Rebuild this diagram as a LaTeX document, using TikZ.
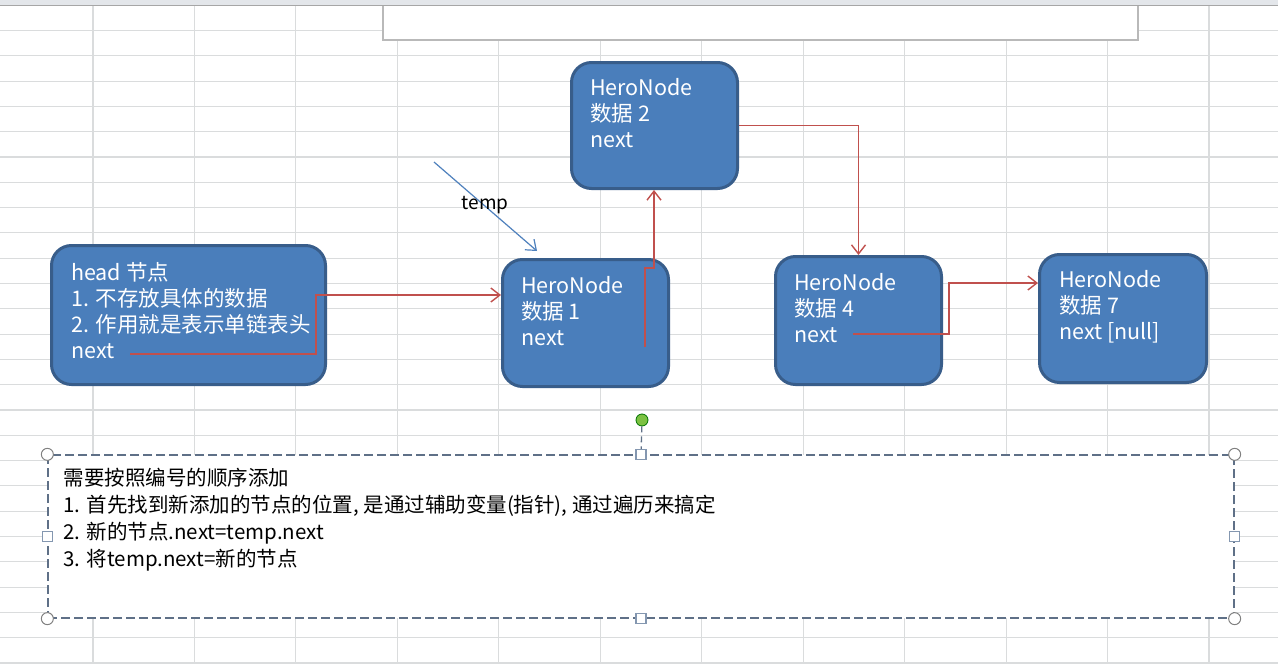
\documentclass[tikz,border=0pt]{standalone}
\usepackage{fontspec}
\setmainfont{Noto Sans CJK SC}
\usetikzlibrary{arrows.meta,calc}
\definecolor{boxfill}{HTML}{4A7EBB}
\definecolor{boxline}{HTML}{385D8A}
\definecolor{linkred}{HTML}{C0504D}
\definecolor{tempblue}{HTML}{4F81BD}
\definecolor{gridc}{HTML}{DADCDD}
\definecolor{dashc}{HTML}{5F7087}
\definecolor{hdr}{HTML}{E3E6EA}
\definecolor{handlec}{HTML}{8497B0}
\definecolor{greenh}{HTML}{7CC142}
\tikzset{
  gridline/.style={draw=gridc, line width=1.1pt},
  herobox/.style={draw=boxline, fill=boxfill, line width=3pt, rounded corners=20pt, inner sep=0pt},
  herotext/.style={anchor=north west, inner sep=0pt, align=left, text=white, font=\fontsize{21.5}{26}\selectfont},
  link/.style={draw=linkred, line width=1.4pt, -{Straight Barb[length=9pt,width=14pt]}},
  templink/.style={draw=tempblue, line width=1.2pt, -{Straight Barb[length=9pt,width=14pt]}},
  cornerh/.style={circle, draw=gray, fill=white, line width=1pt, minimum size=12pt, inner sep=0pt},
  sideh/.style={rectangle, draw=handlec, fill=white, line width=1.1pt, minimum size=10pt, inner sep=0pt},
}
\begin{document}
\begin{tikzpicture}[x=1pt,y=-1pt]
\useasboundingbox (0,0) rectangle (1278,664);
\fill[white] (0,0) rectangle (1278,664);
% spreadsheet grid
\foreach \k in {0,...,11} \draw[gridline] ({93+101.45*\k},0) -- ({93+101.45*\k},664);
\foreach \k in {0,...,25} \draw[gridline] (0,{30.5+25.3*\k}) -- (1278,{30.5+25.3*\k});
% top white box (cut off)
\draw[draw=gray!55, fill=white, line width=1.4pt] (383,-3) rectangle (1138,40);
% column header strip
\fill[hdr] (0,0) rectangle (1278,5);
\draw[gray!70, line width=1pt] (0,5) -- (1278,5);

% boxes
\node[herobox, minimum width=274, minimum height=139] (head) at (188.5,315) {};
\node[herobox, minimum width=166, minimum height=127] (n1) at (585.5,323) {};
\node[herobox, minimum width=166, minimum height=126] (n2) at (654.5,125.5) {};
\node[herobox, minimum width=166, minimum height=128] (n4) at (858.5,320.5) {};
\node[herobox, minimum width=167, minimum height=128] (n7) at (1123,318.5) {};

\node[herotext] (headt) at ([xshift=21pt,yshift=-18pt]head.north west) {head 节点\\1. 不存放具体的数据\\2. 作用就是表示单链表头\\next};
\node[herotext] (n1t) at ([xshift=20pt,yshift=-18pt]n1.north west) {HeroNode\\数据 1\\next};
\node[herotext] (n2t) at ([xshift=20pt,yshift=-17pt]n2.north west) {HeroNode\\数据 2\\next};
\node[herotext] (n4t) at ([xshift=20pt,yshift=-18pt]n4.north west) {HeroNode\\数据 4\\next};
\node[herotext] (n7t) at ([xshift=21pt,yshift=-17pt]n7.north west) {HeroNode\\数据 7\\next [null]};

% connectors
\coordinate (hnext) at (130,354);
\coordinate (hbend) at (316,295);
\draw[link] (hnext) -| (hbend) -- (hbend -| n1.west);

\coordinate (n1next) at (645,347);
\coordinate (n1jog) at (654,268);
\draw[link] (n1next) |- (n1jog) -- (n1jog |- n2.south);

\draw[link] (n2.east) -| (n4.north);

\coordinate (n4next) at (853,334);
\coordinate (n4bend) at (949,283);
\draw[link] (n4next) -| (n4bend) -- (n4bend -| n7.west);

% temp pointer
\coordinate (tempstart) at (434,162);
\coordinate (temptip) at (537,251);
\draw[templink] (tempstart) -- (temptip);
\node[font=\fontsize{19}{22}\selectfont, inner sep=0pt] (templbl) at (485,205) {temp};

% description text box (selected)
\node[rectangle, draw=dashc, fill=white, line width=1.3pt, dash pattern=on 9pt off 4pt, minimum width=1186, minimum height=163, inner sep=0pt] (db) at (641,536.5) {};
\node[anchor=north west, inner sep=0pt, align=left, font=\fontsize{20.5}{27}\selectfont] (desc) at ([xshift=16pt,yshift=-13.5pt]db.north west)
{需要按照编号的顺序添加\\1. 首先找到新添加的节点的位置, 是通过辅助变量(指针), 通过遍历来搞定\\2. 新的节点.next=temp.next\\3. 将temp.next=新的节点};

% selection handles
\node[sideh] (hn) at (db.north) {};
\node[sideh] (hs) at (db.south) {};
\node[sideh] (hw) at (db.west) {};
\node[sideh] (he) at (db.east) {};
\node[cornerh] (hnw) at (db.north west) {};
\node[cornerh] (hne) at (db.north east) {};
\node[cornerh] (hsw) at (db.south west) {};
\node[cornerh] (hse) at (db.south east) {};
\node[circle, draw=green!45!black, fill=greenh, line width=0.8pt, minimum size=12pt, inner sep=0pt] (rot) at (642,420) {};
\draw[dashc, line width=1.3pt, dash pattern=on 6pt off 4pt] (rot) -- (hn);
\end{tikzpicture}
\end{document}
